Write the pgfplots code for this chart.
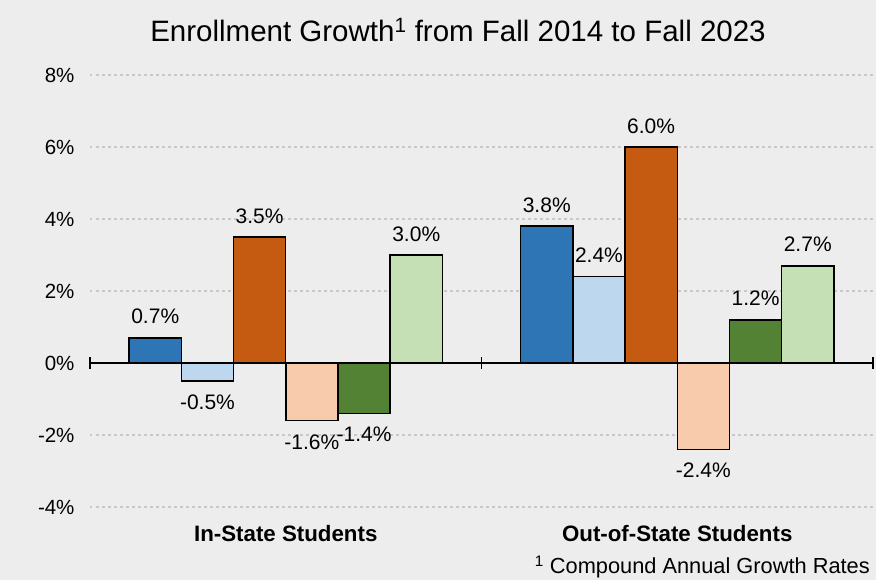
\documentclass[border=0pt]{standalone}
\usepackage{pgfplots}
\pgfplotsset{compat=1.18}
\usepackage{fontspec}
\setmainfont{Liberation Sans}
\definecolor{bg}{HTML}{EDEDED}
\definecolor{cA}{HTML}{2E75B6}
\definecolor{cB}{HTML}{BDD7EE}
\definecolor{cC}{HTML}{C55A11}
\definecolor{cD}{HTML}{F8CBAD}
\definecolor{cE}{HTML}{548235}
\definecolor{cF}{HTML}{C5E0B4}
\definecolor{gridc}{HTML}{C8C8C8}
\begin{document}
\begin{tikzpicture}
\path[use as bounding box, fill=bg] (0,0) rectangle (876pt,580pt);
\node[font=\fontsize{29.5}{34}\selectfont, anchor=center] at (458pt,550pt) {Enrollment Growth\textsuperscript{1} from Fall 2014 to Fall 2023};
\node[font=\fontsize{21.8}{25}\selectfont, anchor=base east, inner sep=0pt] at (870pt,6pt) {\textsuperscript{1} Compound Annual Growth Rates};
\begin{axis}[
  at={(90pt,73pt)}, anchor=south west,
  scale only axis, width=783pt, height=432pt,
  xmin=-0.5, xmax=1.5, ymin=-4, ymax=8,
  ytick={-4,-2,0,2,4,6,8},
  yticklabel={\pgfmathprintnumber{\tick}\%},
  /pgf/number format/assume math mode=true,
  yticklabel style={font=\fontsize{20.5}{24}\selectfont, xshift=-12pt},
  xtick={0,1},
  xticklabels={In-State Students, Out-of-State Students},
  xticklabel style={font=\fontsize{22.3}{26}\selectfont\bfseries, yshift=-15pt},
  major tick length=0pt,
  axis line style={draw=none},
  ymajorgrids,
  grid style={gridc, line width=2.5pt, dash pattern=on 2.5pt off 3.5pt},
  ybar=0pt, bar width=0.13333,
  nodes near coords={\pgfmathprintnumber[fixed,fixed zerofill,precision=1,assume math mode=true]{\pgfplotspointmeta}\%},
  every node near coord/.append style={font=\fontsize{21}{25}\selectfont, text=black, inner ysep=13pt},
  clip=false,
]
\addplot[draw=black, line width=1.5pt, fill=cA, bar shift=-0.33333] coordinates {(0,0.7) (1,3.8)};
\addplot[draw=black, line width=1.5pt, fill=cB, bar shift=-0.2] coordinates {(0,-0.5) (1,2.4)};
\addplot[draw=black, line width=1.5pt, fill=cC, bar shift=-0.06667] coordinates {(0,3.5) (1,6.0)};
\addplot[draw=black, line width=1.5pt, fill=cD, bar shift=0.06667] coordinates {(0,-1.6) (1,-2.4)};
\addplot[draw=black, line width=1.5pt, fill=cE, bar shift=0.2] coordinates {(0,-1.4) (1,1.2)};
\addplot[draw=black, line width=1.5pt, fill=cF, bar shift=0.33333] coordinates {(0,3.0) (1,2.7)};
\draw[black, line width=1.5pt] (axis cs:-0.5,0) -- (axis cs:1.5,0);
\draw[black, line width=1.5pt] (axis cs:-0.5,-0.17) -- (axis cs:-0.5,0.17);
\draw[black, line width=1.5pt] (axis cs:0.5,-0.17) -- (axis cs:0.5,0.17);
\draw[black, line width=1.5pt] (axis cs:1.5,-0.17) -- (axis cs:1.5,0.17);
\end{axis}
\end{tikzpicture}
\end{document}
